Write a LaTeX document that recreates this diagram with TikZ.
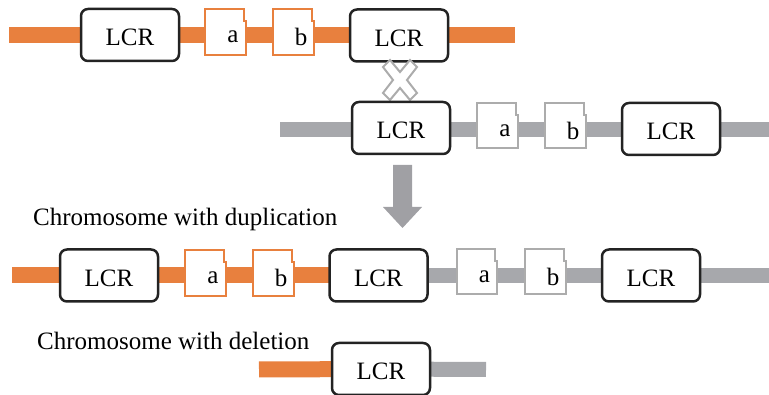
\documentclass[tikz,border=0pt]{standalone}
\usepackage{fontspec}
\setmainfont{Liberation Serif}
\usetikzlibrary{backgrounds}

\definecolor{chrOrange}{RGB}{232,128,62}
\definecolor{chrGray}{RGB}{167,168,172}
\definecolor{geneGray}{RGB}{172,172,172}
\definecolor{lcrLine}{RGB}{35,35,35}
\definecolor{arrowGray}{RGB}{160,160,164}

\tikzset{
  lcr/.style={draw=lcrLine, line width=2.5pt, rounded corners=7pt, fill=white,
    minimum width=98pt, minimum height=52pt, inner sep=0pt,
    font=\fontsize{25}{30}\selectfont},
  gene/.style={fill=white, minimum width=40pt, minimum height=45pt, inner sep=0pt,
    font=\fontsize{25}{30}\selectfont},
  obar/.style={draw=chrOrange, line width=16pt},
  gbar/.style={draw=chrGray, line width=15pt},
  oedge/.style={draw=chrOrange, line width=2pt},
  gedge/.style={draw=geneGray, line width=2pt},
  caption/.style={anchor=base west, inner sep=0pt, font=\fontsize{25}{30}\selectfont},
}

% label set a little right of and below the block centre
\newcommand\genetext[1]{\hspace*{15pt}\raisebox{-5pt}[\height][\depth]{#1}}
\newcommand\lcrtext{\raisebox{-2.5pt}[\height][\depth]{LCR}}

% outline of a gene block with the small step on its right side
\newcommand\geneoutline[2]{%
  \draw[#2] (#1.north west) -- ([xshift=-2pt]#1.north east)
    -- ([xshift=-2pt,yshift=-12pt]#1.north east) -- ([yshift=-12pt]#1.north east)
    -- (#1.south east) -- (#1.south west) -- cycle;}

\begin{document}
\begin{tikzpicture}[x=1pt,y=-1pt]
\useasboundingbox (0,0) rectangle (769,395);

% ---- first chromosome (orange)
\coordinate (r1s) at (9,35);
\coordinate (r1e) at (515,35);
\node[lcr] (l1) at (130,35) {\lcrtext};
\node[gene] (a1) at (225.5,32) {\genetext{a}};
\node[gene] (b1) at (293.5,32) {\genetext{b}};
\node[lcr] (l2) at (399,35.5) {\lcrtext};
\geneoutline{a1}{oedge}
\geneoutline{b1}{oedge}

% ---- crossover mark
\coordinate (x0) at (400,80);
\draw[geneGray, line width=2pt, fill=white, line join=miter]
  ([shift={(0,-8)}]x0) -- ([shift={(10,-20)}]x0) -- ([shift={(17,-13)}]x0)
  -- ([shift={(7,0)}]x0) -- ([shift={(17,13)}]x0) -- ([shift={(10,20)}]x0)
  -- ([shift={(0,8)}]x0) -- ([shift={(-10,20)}]x0) -- ([shift={(-17,13)}]x0)
  -- ([shift={(-7,0)}]x0) -- ([shift={(-17,-13)}]x0) -- ([shift={(-10,-20)}]x0) -- cycle;

% ---- second chromosome (gray)
\coordinate (r2s) at (280,129.5);
\coordinate (r2e) at (769,129.5);
\node[lcr] (l3) at (401,128) {\lcrtext};
\node[gene] (a2) at (497.5,125.5) {\genetext{a}};
\node[gene] (b2) at (565.5,125.5) {\genetext{b}};
\node[lcr] (l4) at (671,129) {\lcrtext};
\geneoutline{a2}{gedge}
\geneoutline{b2}{gedge}

% ---- block arrow
\coordinate (ar) at (402.5,165);
\fill[arrowGray] ([shift={(-9.5,0)}]ar) -- ([shift={(9.5,0)}]ar) -- ([shift={(9.5,42)}]ar)
  -- ([shift={(19.5,42)}]ar) -- ([shift={(0,63)}]ar) -- ([shift={(-19.5,42)}]ar)
  -- ([shift={(-9.5,42)}]ar) -- cycle;

% ---- duplication product
\node[caption] (t1) at (33,226) {Chromosome with duplication};
\coordinate (r3s) at (12,275.5);
\coordinate (r3e) at (769,275.5);
\node[lcr] (l5) at (109,275.5) {\lcrtext};
\node[gene] (a3) at (205.5,273) {\genetext{a}};
\node[gene] (b3) at (273.5,273) {\genetext{b}};
\node[lcr] (l6) at (378.5,275.5) {\lcrtext};
\node[gene] (a4) at (477,271.5) {\genetext{a}};
\node[gene] (b4) at (545.5,271.5) {\genetext{b}};
\node[lcr] (l7) at (651,275.5) {\lcrtext};
\geneoutline{a3}{oedge}
\geneoutline{b3}{oedge}
\geneoutline{a4}{gedge}
\geneoutline{b4}{gedge}

% ---- deletion product
\node[caption] (t2) at (37,350) {Chromosome with deletion};
\coordinate (r4s) at (259,369.5);
\coordinate (r4e) at (486,369.5);
\node[lcr] (l8) at (381,369) {\lcrtext};

% ---- chromosome bars behind the blocks
\begin{scope}[on background layer]
  \draw[obar] (r1s) -- (r1e);
  \draw[gbar] (r2s) -- (r2e);
  \draw[obar] (r3s) -- (l6.center);
  \draw[gbar] (l6.center) -- (r3e);
  \draw[obar] (r4s) -- (l8.center);
  \draw[gbar] (l8.center) -- (r4e);
\end{scope}
\end{tikzpicture}
\end{document}
